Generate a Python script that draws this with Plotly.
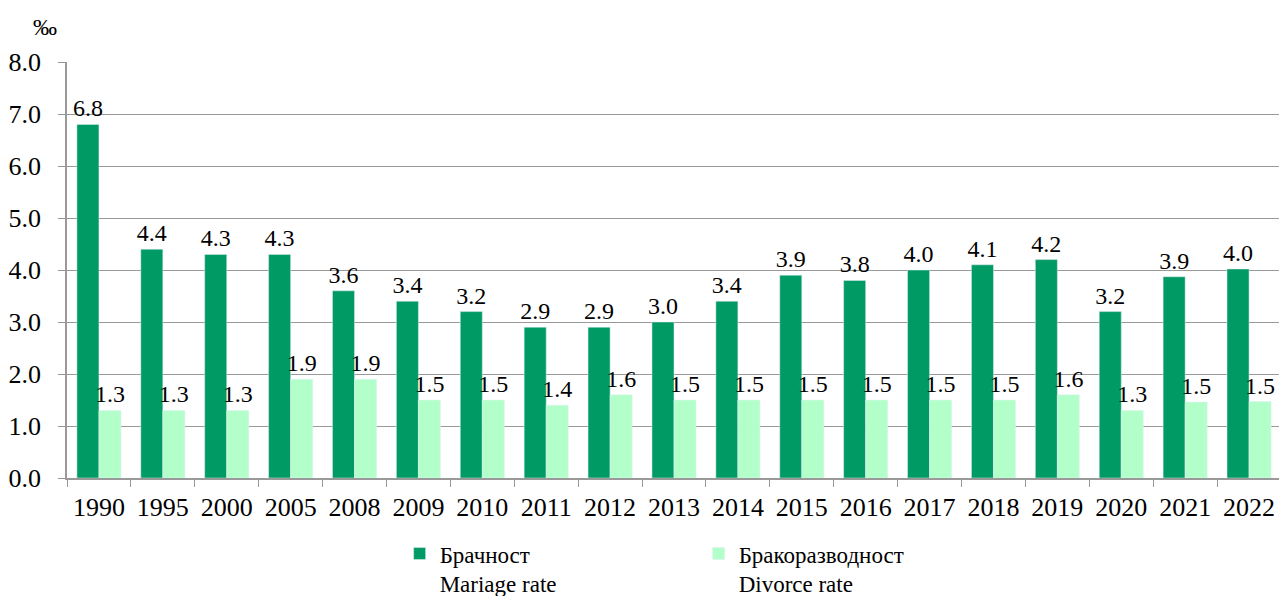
import plotly.graph_objects as go

years = ["1990", "1995", "2000", "2005", "2008", "2009", "2010", "2011", "2012", "2013",
         "2014", "2015", "2016", "2017", "2018", "2019", "2020", "2021", "2022"]
marriage = [6.8, 4.4, 4.3, 4.3, 3.6, 3.4, 3.2, 2.9, 2.9, 3.0,
            3.4, 3.9, 3.8, 4.0, 4.1, 4.2, 3.2, 3.87, 4.02]
divorce = [1.3, 1.3, 1.3, 1.9, 1.9, 1.5, 1.5, 1.4, 1.6, 1.5,
           1.5, 1.5, 1.5, 1.5, 1.5, 1.6, 1.3, 1.46, 1.47]
names = ["Брачност<br>Mariage rate", "Бракоразводност<br>Divorce rate"]
yticks = [0, 1, 2, 3, 4, 5, 6, 7, 8]

FONT = "Liberation Serif"

fig = go.Figure()
fig.add_trace(go.Bar(x=years, y=marriage, name=names[0], marker_color="#009B64",
                     texttemplate="%{y:.1f}", textposition="outside", constraintext="none",
                     textfont=dict(size=24, color="black", family=FONT), cliponaxis=False))
fig.add_trace(go.Bar(x=years, y=divorce, name=names[1], marker_color="#B3FFCA",
                     texttemplate="%{y:.1f}", textposition="outside", constraintext="none",
                     textfont=dict(size=24, color="black", family=FONT), cliponaxis=False))

fig.update_layout(
    width=1279, height=588,
    margin=dict(l=59, r=6, t=54, b=118, autoexpand=False),
    barmode="group", bargap=0.31, bargroupgap=0,
    plot_bgcolor="white", paper_bgcolor="white",
    font=dict(family=FONT, color="black", size=22),
    showlegend=True,
    legend=dict(orientation="h", x=0.274, y=-0.13, xanchor="left", yanchor="top",
                font=dict(size=23, family=FONT), entrywidth=254, entrywidthmode="pixels",
                valign="top", traceorder="normal"),
)
fig.update_xaxes(type="category", showline=True, linecolor="#999999", linewidth=1.5,
                 ticks="outside", tickson="boundaries", ticklen=7, tickcolor="#999999",
                 ticklabelstandoff=5,
                 tickfont=dict(size=26, family=FONT))
fig.update_yaxes(range=[0, 8], tickvals=yticks, tickformat=".1f", showgrid=True,
                 gridcolor="#999999", gridwidth=1.2, showline=True, linecolor="#999999",
                 linewidth=1.5, ticks="outside", ticklen=7, tickcolor="#999999",
                 ticklabelstandoff=12,
                 tickfont=dict(size=26, family=FONT), zeroline=False)
fig.add_annotation(text="‰", xref="paper", yref="paper", x=-0.018, y=1.084,
                   xanchor="center", yanchor="middle", showarrow=False,
                   font=dict(size=24, family=FONT))

fig.write_html("out.html")
